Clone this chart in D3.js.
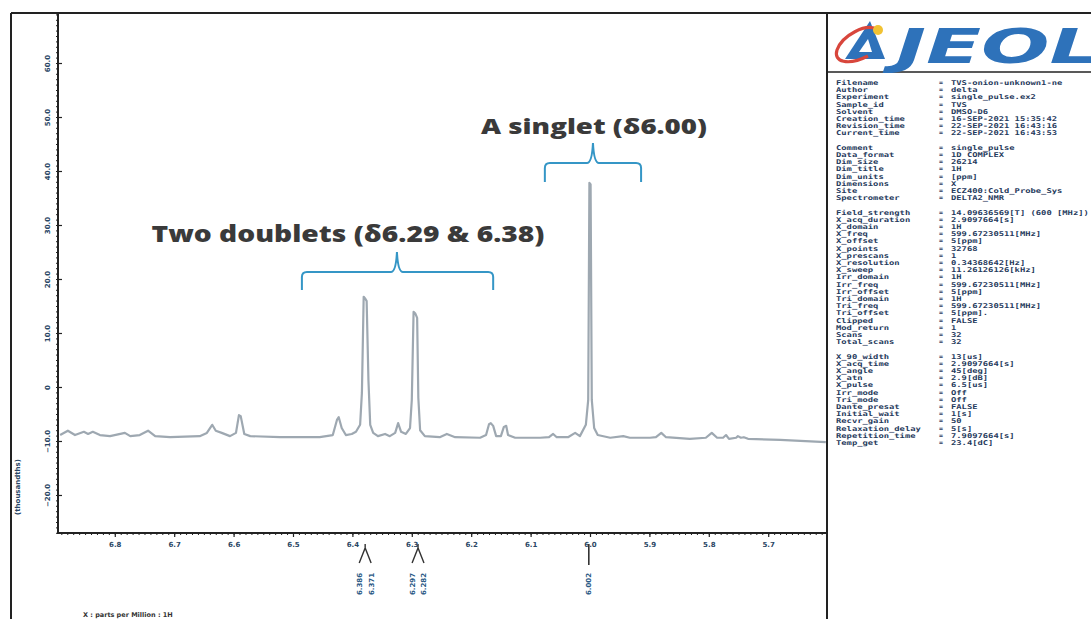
<!DOCTYPE html>
<html>
<head>
<meta charset="utf-8">
<script src="https://cdn.jsdelivr.net/npm/d3@7"></script>
<style>
  body { margin: 0; background: #fff; }
  svg { display: block; }
</style>
</head>
<body>
<div id="chart"></div>
<script>
// spectrum: chemical shift (ppm) and intensity (thousandths)
const shiftPpm = [6.892, 6.879, 6.867, 6.852, 6.845, 6.837, 6.825, 6.808, 6.783, 6.774,
  6.758, 6.744, 6.732, 6.707, 6.657, 6.645, 6.636, 6.630, 6.620, 6.606,
  6.596, 6.591, 6.588, 6.582, 6.572, 6.522, 6.455, 6.433, 6.426, 6.423,
  6.418, 6.411, 6.401, 6.394, 6.387, 6.384, 6.381, 6.378, 6.376, 6.373, 6.370,
  6.365, 6.357, 6.345, 6.337, 6.328, 6.323, 6.318, 6.310, 6.303, 6.300,
  6.297, 6.294, 6.291, 6.289, 6.286, 6.278, 6.253, 6.241, 6.227, 6.185, 6.175,
  6.170, 6.167, 6.163, 6.158, 6.150, 6.145, 6.141, 6.138, 6.126, 6.084,
  6.069, 6.062, 6.056, 6.037, 6.025, 6.017, 6.007, 6.003, 6.001, 5.999, 5.997,
  5.993, 5.987, 5.966, 5.944, 5.933, 5.899, 5.889, 5.880, 5.872, 5.832,
  5.805, 5.795, 5.786, 5.776, 5.771, 5.766, 5.754, 5.751, 5.746, 5.741,
  5.734, 5.680, 5.603];
const intensity = [-8.9, -8.1, -8.9, -8.3, -8.7, -8.3, -8.9, -9.1, -8.5, -9.1,
  -8.9, -8.1, -9.1, -9.3, -9.1, -8.5, -7.0, -8.1, -8.5, -9.1,
  -8.5, -5.2, -5.4, -8.7, -9.1, -9.3, -9.3, -8.9, -6.1, -5.6,
  -7.6, -8.9, -8.7, -8.3, -7.0, -1.1, 16.7, 16.3, 15.9, 1.3, -7.0,
  -8.5, -9.1, -8.7, -9.1, -8.5, -6.7, -8.3, -8.7, -7.6, -2.4,
  13.9, 13.6, 12.8, -2.0, -8.0, -9.1, -9.3, -8.7, -9.3, -9.4, -8.9,
  -6.9, -6.7, -7.2, -9.1, -9.1, -7.4, -7.2, -8.9, -9.4, -9.4,
  -9.3, -8.7, -9.3, -9.3, -8.5, -9.1, -7.0, -2.4, 37.8, 37.5, -2.4,
  -7.6, -8.9, -9.4, -9.1, -9.4, -9.4, -9.3, -8.5, -9.3, -9.6,
  -9.4, -8.5, -9.4, -9.4, -8.9, -9.6, -9.4, -9.1, -9.4, -9.3,
  -9.6, -9.8, -10.2];

const xTicks = [6.8, 6.7, 6.6, 6.5, 6.4, 6.3, 6.2, 6.1, 6.0, 5.9, 5.8, 5.7];
const yTicks = [-20, -10, 0, 10, 20, 30, 40, 50, 60];

// peak picking groups
const pickGroups = [["6.386", "6.371"], ["6.297", "6.282"], ["6.002"]];

// annotation braces: label, left ppm, centre ppm, right ppm
const annoLabels = ["Two doublets (\u03b46.29 & 6.38)", "A singlet (\u03b46.00)"];
const annoRanges = [[6.485, 6.325, 6.163], [6.076, 5.995, 5.914]];

const paramNames = ["Filename", "Author", "Experiment", "Sample_id", "Solvent",
  "Creation_time", "Revision_time", "Current_time", "",
  "Comment", "Data_format", "Dim_size", "Dim_title", "Dim_units", "Dimensions",
  "Site", "Spectrometer", "",
  "Field_strength", "X_acq_duration", "X_domain", "X_freq", "X_offset", "X_points",
  "X_prescans", "X_resolution", "X_sweep", "Irr_domain", "Irr_freq", "Irr_offset",
  "Tri_domain", "Tri_freq", "Tri_offset", "Clipped", "Mod_return", "Scans",
  "Total_scans", "",
  "X_90_width", "X_acq_time", "X_angle", "X_atn", "X_pulse", "Irr_mode", "Tri_mode",
  "Dante_presat", "Initial_wait", "Recvr_gain", "Relaxation_delay",
  "Repetition_time", "Temp_get"];
const paramValues = ["TVS-onion-unknown1-ne", "delta", "single_pulse.ex2", "TVS", "DMSO-D6",
  "16-SEP-2021 15:35:42", "22-SEP-2021 16:43:16", "22-SEP-2021 16:43:53", "",
  "single_pulse", "1D COMPLEX", "26214", "1H", "[ppm]", "X",
  "ECZ400:Cold_Probe_Sys", "DELTA2_NMR", "",
  "14.09636569[T] (600 [MHz])", "2.9097664[s]", "1H", "599.67230511[MHz]", "5[ppm]", "32768",
  "1", "0.34368642[Hz]", "11.26126126[kHz]", "1H", "599.67230511[MHz]", "5[ppm]",
  "1H", "599.67230511[MHz]", "5[ppm].", "FALSE", "1", "32",
  "32", "",
  "13[us]", "2.9097664[s]", "45[deg]", "2.9[dB]", "6.5[us]", "Off", "Off",
  "FALSE", "1[s]", "50", "5[s]",
  "7.9097664[s]", "23.4[dC]"];

const width = 1091, height = 619;
const plotL = 58, plotR = 827, plotT = 13, plotB = 533;
const inkColor = "#2a4664";

const svg = d3.select("#chart").append("svg")
  .attr("width", width)
  .attr("height", height);

svg.append("rect").attr("width", width).attr("height", height).attr("fill", "#fff");

const x = d3.scaleLinear().domain([6.8956, 5.6027]).range([plotL, 826]);
const y = d3.scaleLinear().domain([-27.04, 69.26]).range([plotB, plotT]);

// outer frame lines
svg.append("line").attr("x1", 11).attr("y1", 13).attr("x2", 11).attr("y2", height)
  .attr("stroke", "#222").attr("stroke-width", 2);
svg.append("line").attr("x1", 11).attr("y1", 13).attr("x2", width).attr("y2", 13)
  .attr("stroke", "#222").attr("stroke-width", 2);
svg.append("line").attr("x1", plotR).attr("y1", 13).attr("x2", plotR).attr("y2", height)
  .attr("stroke", "#222").attr("stroke-width", 2);
svg.append("line").attr("x1", plotR).attr("y1", 72).attr("x2", width).attr("y2", 72)
  .attr("stroke", "#222").attr("stroke-width", 1.6);

// spectrum
svg.append("defs").append("clipPath").attr("id", "plotClip")
  .append("rect").attr("x", plotL).attr("y", plotT)
  .attr("width", plotR - plotL).attr("height", plotB - plotT);

const specData = shiftPpm.map((p, i) => [p, intensity[i]]);
svg.append("path")
  .datum(specData)
  .attr("clip-path", "url(#plotClip)")
  .attr("fill", "none")
  .attr("stroke", "#9ea8b1")
  .attr("stroke-width", 2.2)
  .attr("stroke-linejoin", "round")
  .attr("d", d3.line().x(d => x(d[0])).y(d => y(d[1])));

// axes
const minorY = d3.range(-27, 70, 1);
svg.append("g")
  .attr("transform", `translate(${plotL},0)`)
  .call(d3.axisLeft(y).tickValues(minorY).tickSize(2).tickFormat(""))
  .call(g => g.selectAll("line").attr("stroke", "#222"))
  .call(g => g.select(".domain").remove());
const yAxis = svg.append("g")
  .attr("transform", `translate(${plotL},0)`)
  .call(d3.axisLeft(y).tickValues(yTicks).tickSize(-4).tickPadding(6)
    .tickFormat(d => d === 0 ? "0" : d3.format(".1f")(d)));
yAxis.select(".domain").remove();
yAxis.selectAll("line").attr("stroke", "#222").attr("stroke-width", 1.2);
yAxis.selectAll("text")
  .attr("x", 0).attr("dy", 0)
  .attr("transform", "translate(-8,0) rotate(-90)")
  .attr("text-anchor", "middle")
  .attr("fill", inkColor)
  .style("font", "bold 7px 'DejaVu Sans'");

const minorX = d3.range(5.61, 6.9, 0.01);
svg.append("g")
  .attr("transform", `translate(0,${plotB})`)
  .call(d3.axisBottom(x).tickValues(minorX).tickSize(2).tickFormat(""))
  .call(g => g.selectAll("line").attr("stroke", "#222"))
  .call(g => g.select(".domain").remove());
const xAxis = svg.append("g")
  .attr("transform", `translate(0,${plotB})`)
  .call(d3.axisBottom(x).tickValues(xTicks).tickSize(4).tickPadding(5)
    .tickFormat(d3.format(".1f")));
xAxis.select(".domain").remove();
xAxis.selectAll("line").attr("stroke", "#222").attr("stroke-width", 1.2);
xAxis.selectAll("text").attr("fill", inkColor).style("font", "bold 7px 'DejaVu Sans'");

// plot frame
svg.append("rect")
  .attr("x", plotL).attr("y", plotT)
  .attr("width", plotR - plotL).attr("height", plotB - plotT)
  .attr("fill", "none").attr("stroke", "#222").attr("stroke-width", 2);

// axis titles
svg.append("text")
  .attr("transform", "translate(20,487) rotate(-90)")
  .attr("text-anchor", "middle")
  .attr("fill", inkColor)
  .style("font", "bold 7px 'DejaVu Sans'")
  .text("(thousandths)");
svg.append("text")
  .attr("x", 83).attr("y", 617)
  .attr("fill", "#333")
  .style("font", "bold 6.5px 'DejaVu Sans'")
  .text("X : parts per Million : 1H");

// peak picks under the axis
pickGroups.forEach(grp => {
  const vals = grp.map(Number);
  const mid = x(d3.mean(vals));
  const spread = grp.length > 1 ? 1.5 : 0;
  const xs = vals.map((v, i) => x(v) + (i === 0 ? -spread : spread));
  if (grp.length === 1) {
    svg.append("line").attr("x1", mid).attr("y1", 544).attr("x2", mid).attr("y2", 565)
      .attr("stroke", "#333").attr("stroke-width", 1.6);
  } else {
    svg.append("path")
      .attr("d", `M${xs[0]},563 L${mid},548 L${xs[1]},563 M${mid},548 L${mid},544`)
      .attr("fill", "none").attr("stroke", "#333").attr("stroke-width", 1.4);
  }
  grp.forEach((lab, i) => {
    svg.append("text")
      .attr("transform", `translate(${xs[i] + 2.5},584) rotate(-90)`)
      .attr("text-anchor", "middle")
      .attr("fill", "#2b5a86")
      .style("font", "bold 7px 'DejaVu Sans'")
      .text(lab);
  });
});

// annotations
const braceTop = [[290, 272, 252], [182, 163, 143]];
const textPos = [[348, 242, 393, 23], [594, 134, 226, 21]];
annoRanges.forEach((r, i) => {
  const x0 = x(r[0]), xm = x(r[1]), x1 = x(r[2]);
  const [yb, yh, yt] = braceTop[i];
  const p = d3.path();
  p.moveTo(x0, yb);
  p.lineTo(x0, yh + 5);
  p.quadraticCurveTo(x0, yh, x0 + 5, yh);
  p.lineTo(xm - 6, yh);
  p.quadraticCurveTo(xm - 1, yh, xm, yt);
  p.quadraticCurveTo(xm + 1, yh, xm + 6, yh);
  p.lineTo(x1 - 5, yh);
  p.quadraticCurveTo(x1, yh, x1, yh + 5);
  p.lineTo(x1, yb);
  svg.append("path").attr("d", p.toString())
    .attr("fill", "none").attr("stroke", "#3596c6").attr("stroke-width", 2);
  const [tx, ty, tw, fs] = textPos[i];
  svg.append("text")
    .attr("x", tx - tw / 2).attr("y", ty)
    .attr("textLength", tw).attr("lengthAdjust", "spacingAndGlyphs")
    .attr("fill", "#3a3a3a")
    .style("font-family", "'Open Sans', sans-serif")
    .style("font-weight", 800)
    .style("font-size", fs + "px")
    .text(annoLabels[i]);
});

// JEOL logo
const logo = svg.append("g");
logo.append("path")
  .attr("d", "M845,59 L870,21 L885,59 Z")
  .attr("fill", "#2e72ba");
logo.append("path")
  .attr("d", "M859,52 L868,39 L872,52 Z")
  .attr("fill", "#fff");
logo.append("path")
  .attr("d", "M878,30 C866,22 842,36 837,50 C833,62 848,66 868,56")
  .attr("fill", "none").attr("stroke", "#d8463c").attr("stroke-width", 3.2);
logo.append("circle").attr("cx", 878).attr("cy", 30).attr("r", 5).attr("fill", "#f1c232");
logo.append("text")
  .attr("x", 896).attr("y", 63)
  .attr("textLength", 205).attr("lengthAdjust", "spacingAndGlyphs")
  .attr("fill", "#2e72ba")
  .style("font", "italic 900 48px 'DejaVu Sans'")
  .style("font-stretch", "expanded")
  .text("JEOL");

// parameter listing
const lineH = 7.2;
const params = svg.append("g")
  .attr("fill", "#1f3a5c")
  .style("font", "bold 6.6px 'DejaVu Sans Mono'");
paramNames.forEach((n, i) => {
  if (n === "") return;
  const yy = 85 + i * lineH;
  params.append("text").attr("x", 836).attr("y", yy)
    .attr("textLength", n.length * 5.3).attr("lengthAdjust", "spacingAndGlyphs")
    .text(n);
  params.append("text").attr("x", 939).attr("y", yy).text("=");
  params.append("text").attr("x", 951).attr("y", yy)
    .attr("textLength", paramValues[i].length * 5.3).attr("lengthAdjust", "spacingAndGlyphs")
    .text(paramValues[i]);
});
</script>
</body>
</html>
